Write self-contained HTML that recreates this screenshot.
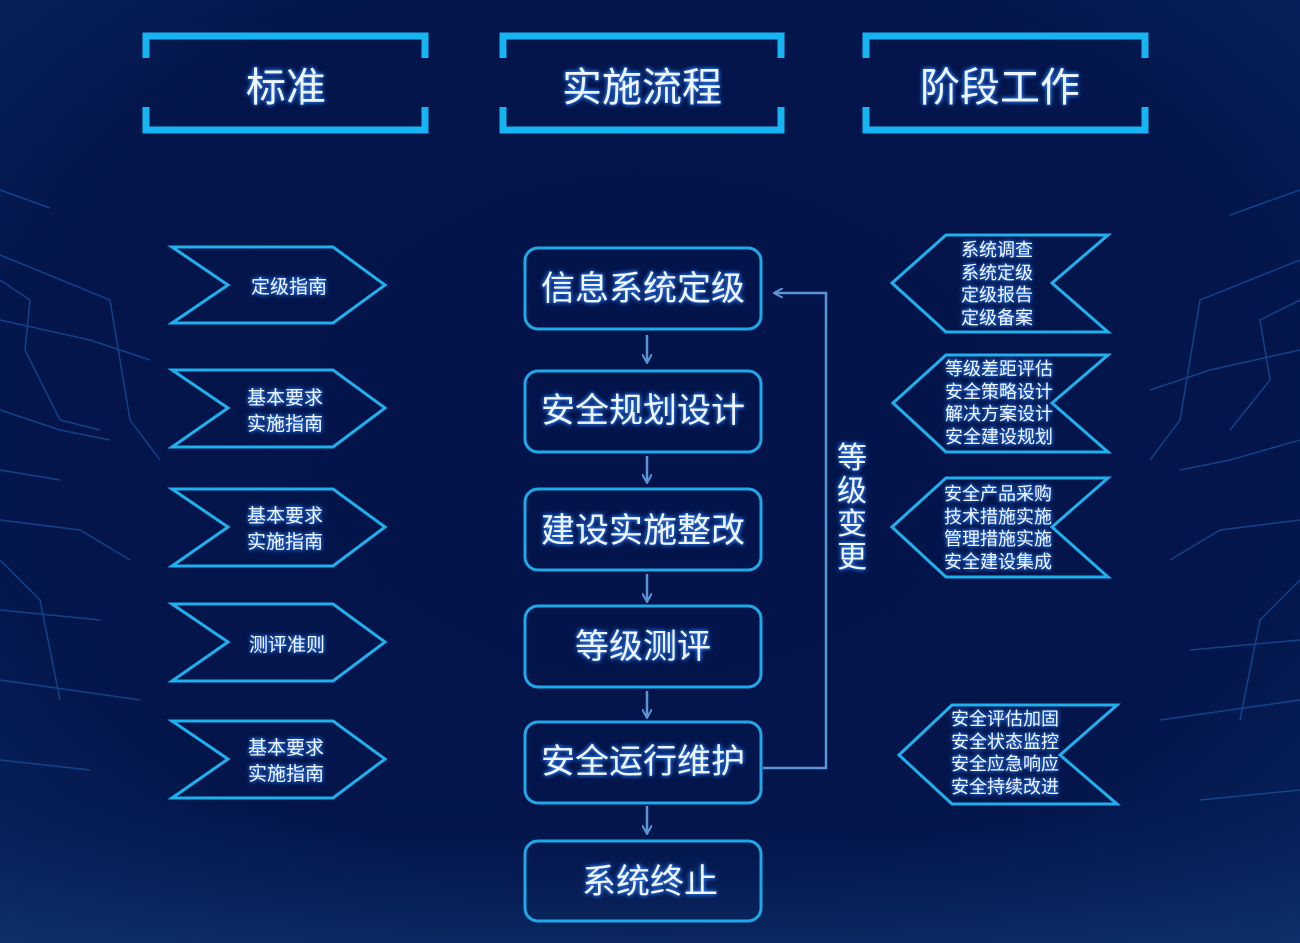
<!DOCTYPE html>
<html><head><meta charset="utf-8"><style>
html,body{margin:0;padding:0;width:1300px;height:943px;overflow:hidden;background:#03154a;}
svg{display:block}
text{font-family:"Liberation Sans","Noto Sans CJK SC",sans-serif;fill:#eef6ff;}
.g{filter:url(#glow)}
</style></head><body>
<svg width="1300" height="943" viewBox="0 0 1300 943" xmlns="http://www.w3.org/2000/svg">
<defs>
<radialGradient id="bg" cx="50%" cy="45%" r="75%">
<stop offset="0" stop-color="#03144a"/><stop offset="0.65" stop-color="#03154a"/><stop offset="1" stop-color="#082660"/>
</radialGradient>
<linearGradient id="bot" x1="0" y1="0" x2="0" y2="1"><stop offset="0" stop-color="#0b2a6a" stop-opacity="0"/><stop offset="1" stop-color="#1a4a8a" stop-opacity="0.3"/></linearGradient>
<filter id="glow" x="-20%" y="-20%" width="140%" height="140%">
<feGaussianBlur in="SourceAlpha" stdDeviation="2.5" result="b"/>
<feFlood flood-color="#2f7fff" flood-opacity="0.9"/><feComposite in2="b" operator="in" result="c"/>
<feMerge><feMergeNode in="c"/><feMergeNode in="c"/><feMergeNode in="SourceGraphic"/></feMerge>
</filter>
<marker id="ar" viewBox="0 0 10 10" refX="8" refY="5" markerWidth="10" markerHeight="10" markerUnits="userSpaceOnUse" orient="auto">
<path d="M0,0 L9,5 L0,10" fill="none" stroke="#5b95d6" stroke-width="2"/></marker>
</defs>
<rect width="1300" height="943" fill="url(#bg)"/>
<rect y="800" width="1300" height="143" fill="url(#bot)"/>
<g stroke="#1d5fb0" stroke-width="1.5" fill="none" opacity="0.6">
<path d="M0,190 L50,208"/><path d="M0,255 L110,300 L130,420 L160,460"/><path d="M0,280 L30,300 L25,350 L60,420 L100,430"/>
<path d="M0,320 L90,340 L150,360"/><path d="M0,410 L60,430 L110,440"/><path d="M0,470 L60,480"/><path d="M0,520 L80,530 L130,560"/>
<path d="M0,560 L40,600 L60,700"/><path d="M0,610 L100,620"/><path d="M0,680 L140,700"/><path d="M0,760 L90,770"/>
<path d="M1300,190 L1230,215"/><path d="M1300,260 L1200,300 L1180,420 L1150,460"/><path d="M1300,300 L1260,320 L1270,380 L1230,430"/>
<path d="M1300,350 L1210,370 L1150,390"/><path d="M1300,440 L1230,460 L1180,470"/><path d="M1300,520 L1220,530 L1170,560"/>
<path d="M1300,580 L1260,620 L1240,720"/><path d="M1300,640 L1190,650"/><path d="M1300,700 L1160,720"/><path d="M1300,790 L1200,800"/>
</g>
<g fill="none" stroke="#17b4f2" stroke-width="7">
<path d="M146,58 V36 H425 V58"/><path d="M146,107 V130 H425 V107"/>
<path d="M503,58 V36 H781 V58"/><path d="M503,107 V130 H781 V107"/>
<path d="M866,58 V36 H1145 V58"/><path d="M866,107 V130 H1145 V107"/>
</g>
<g class="g" font-size="40" text-anchor="middle">
<text x="286" y="101">标准</text>
<text x="642" y="101">实施流程</text>
<text x="1000" y="101">阶段工作</text>
</g>
<g fill="none" stroke="#1fb0ee" stroke-width="3">
<path d="M172,247 H333 L385,285 L333,323 H172 L228,285 Z"/>
<path d="M172,370 H333 L385,408 L333,447 H172 L228,408 Z"/>
<path d="M172,489 H333 L385,527 L333,566 H172 L228,527 Z"/>
<path d="M172,604 H333 L385,642 L333,681 H172 L228,642 Z"/>
<path d="M172,721 H333 L385,759 L333,798 H172 L228,759 Z"/>
</g>
<g class="g" font-size="19" text-anchor="middle">
<text x="289" y="293">定级指南</text>
<text x="285" y="404">基本要求</text><text x="285" y="430">实施指南</text>
<text x="285" y="522">基本要求</text><text x="285" y="548">实施指南</text>
<text x="287" y="651">测评准则</text>
<text x="286" y="754">基本要求</text><text x="286" y="780">实施指南</text>
</g>
<g fill="none" stroke="#1fa8e8" stroke-width="3">
<rect x="525" y="248" width="236" height="81" rx="13"/>
<rect x="525" y="371" width="236" height="81" rx="13"/>
<rect x="525" y="489" width="236" height="81" rx="13"/>
<rect x="525" y="606" width="236" height="81" rx="13"/>
<rect x="525" y="722" width="236" height="81" rx="13"/>
<rect x="525" y="841" width="236" height="80" rx="13"/>
</g>
<g class="g" font-size="34" text-anchor="middle">
<text x="643" y="300">信息系统定级</text>
<text x="643" y="422">安全规划设计</text>
<text x="643" y="542">建设实施整改</text>
<text x="643" y="658">等级测评</text>
<text x="650" y="893">系统终止</text>
<text x="643" y="773">安全运行维护</text>
</g>
<g stroke="#5b95d6" stroke-width="2.5" fill="none">
<path d="M647,335 V362" marker-end="url(#ar)"/>
<path d="M647,456 V482" marker-end="url(#ar)"/>
<path d="M647,574 V601" marker-end="url(#ar)"/>
<path d="M647,691 V717" marker-end="url(#ar)"/>
<path d="M647,806 V833" marker-end="url(#ar)"/>
<path d="M763,768 H826 V293 H775" marker-end="url(#ar)"/>
</g>
<g class="g" font-size="30" text-anchor="middle">
<text x="852" y="468">等</text><text x="852" y="501">级</text><text x="852" y="534">变</text><text x="852" y="567">更</text>
</g>
<g fill="none" stroke="#1fb0ee" stroke-width="3">
<path d="M892,283 L946,235 H1108 L1052,283 L1108,332 H946 Z"/>
<path d="M893,403 L946,355 H1108 L1052,403 L1108,452 H946 Z"/>
<path d="M892,527 L946,478 H1108 L1052,527 L1108,577 H946 Z"/>
<path d="M899,755 L952,705 H1117 L1060,755 L1117,804 H952 Z"/>
</g>
<g class="g" font-size="18" text-anchor="middle">
<text x="997" y="256">系统调查</text><text x="997" y="279">系统定级</text><text x="997" y="301">定级报告</text><text x="997" y="324">定级备案</text>
<text x="999" y="375">等级差距评估</text><text x="999" y="398">安全策略设计</text><text x="999" y="420">解决方案设计</text><text x="999" y="443">安全建设规划</text>
<text x="998" y="500">安全产品采购</text><text x="998" y="523">技术措施实施</text><text x="998" y="545">管理措施实施</text><text x="998" y="568">安全建设集成</text>
<text x="1005" y="725">安全评估加固</text><text x="1005" y="748">安全状态监控</text><text x="1005" y="770">安全应急响应</text><text x="1005" y="793">安全持续改进</text>
</g>
</svg>
</body></html>
